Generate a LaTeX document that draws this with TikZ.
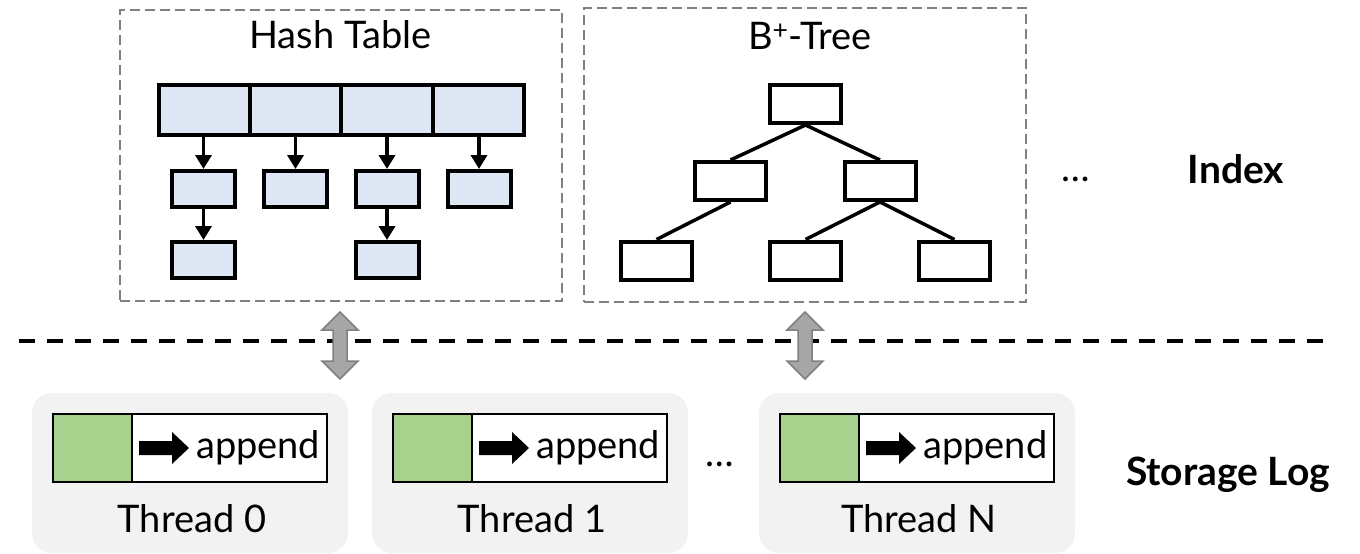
\documentclass[tikz,border=0pt]{standalone}
\usepackage{fontspec}
\setmainfont{Lato}
\usetikzlibrary{arrows.meta}
\definecolor{hblue}{HTML}{DDE8F4}
\definecolor{lgreen}{HTML}{A9D18E}
\definecolor{tbg}{HTML}{F2F2F2}
\definecolor{rgray}{HTML}{808080}
\definecolor{agray}{HTML}{A6A6A6}
\definecolor{aedge}{HTML}{808080}
\tikzset{
  region/.style={draw=rgray, line width=2.2pt, dash pattern=on 10pt off 5pt, inner sep=0pt, outer sep=0pt},
  hcell/.style={draw=black, line width=4pt, fill=hblue, minimum width=91.25pt, minimum height=50pt, inner sep=0pt},
  hbox/.style={draw=black, line width=4pt, fill=hblue, minimum width=63pt, minimum height=36pt, inner sep=0pt},
  bbox/.style={draw=black, line width=4pt, fill=white, minimum width=71pt, minimum height=38pt, inner sep=0pt},
  harr/.style={line width=3.5pt, -{Triangle[length=14pt,width=16pt]}},
  bline/.style={line width=3.5pt},
  title/.style={font=\fontsize{38}{42}\selectfont, inner sep=0pt, anchor=base},
  label/.style={font=\fontsize{39}{44}\selectfont\bfseries, inner sep=0pt, anchor=base},
  tbox/.style={fill=tbg, rounded corners=20pt, minimum width=316pt, minimum height=160pt, inner sep=0pt},
  gcell/.style={draw=black, line width=1.5pt, fill=lgreen, minimum width=79pt, minimum height=68pt, inner sep=0pt},
  wcell/.style={draw=black, line width=1.5pt, fill=white, minimum width=195pt, minimum height=68pt, inner sep=0pt},
  dblarrow/.style={fill=agray, draw=aedge, line width=1.5pt, line join=miter},
  dbl/.pic={\draw[dblarrow] (0,0) -- (18,18) -- (7,18) -- (7,49) -- (18,49) -- (0,67) -- (-18,49) -- (-7,49) -- (-7,18) -- (-18,18) -- cycle;},
  blk/.pic={\fill[black] (0,-7) -- (33,-7) -- (33,-16) -- (50,0) -- (33,16) -- (33,7) -- (0,7) -- cycle;}
}
\begin{document}
\begin{tikzpicture}[x=1pt,y=-1pt]
\useasboundingbox (0,0) rectangle (1360,554);
% index regions
\node[region, minimum width=442pt, minimum height=291pt] (hashreg) at (341,155.5) {};
\node[region, minimum width=442pt, minimum height=294pt] (treereg) at (805,155) {};
\node[title] (hashtitle) at (340.5,48) {Hash Table};
\node[title] (treetitle) at (810,49) {B\textsuperscript{+}-Tree};
% hash table
\node[hcell] (h1) at (204.6,110) {};
\node[hcell] (h2) at (295.9,110) {};
\node[hcell] (h3) at (387.1,110) {};
\node[hcell] (h4) at (478.4,110) {};
\node[hbox] (m1) at (203.5,189) {};
\node[hbox] (m2) at (295.5,189) {};
\node[hbox] (m3) at (387,189) {};
\node[hbox] (m4) at (479,189) {};
\node[hbox] (b1) at (203.5,260) {};
\node[hbox] (b3) at (387,260) {};
\draw[harr] (h1.south -| m1.north) -- (m1.north);
\draw[harr] (h2.south -| m2.north) -- (m2.north);
\draw[harr] (h3.south -| m3.north) -- (m3.north);
\draw[harr] (h4.south -| m4.north) -- (m4.north);
\draw[harr] (m1.south) -- (b1.north);
\draw[harr] (m3.south) -- (b3.north);
% B+ tree
\node[bbox] (root) at (805.5,104) {};
\node[bbox] (tl) at (730.5,181) {};
\node[bbox] (tr) at (880,181) {};
\node[bbox] (l1) at (656.5,260.5) {};
\node[bbox] (l2) at (805.5,260.5) {};
\node[bbox] (l3) at (954.5,260.5) {};
\draw[bline] (root.south) -- (tl.north);
\draw[bline] (root.south) -- (tr.north);
\draw[bline] (tl.south) -- (l1.north);
\draw[bline] (tr.south) -- (l2.north);
\draw[bline] (tr.south) -- (l3.north);
% index labels
\node[title] (idots) at (1076,181) {\ldots};
\node[label] (index) at (1236,183) {Index};
% separator
\coordinate (sepL) at (19,341);
\coordinate (sepR) at (1323,341);
\draw[line width=4.5pt, dash pattern=on 16pt off 12pt] (sepL) -- (sepR);
% threads
\foreach \i/\dx/\lab in {0/0/Thread 0, 1/340/Thread 1, 2/727/Thread N}{
  \node[tbox] (t\i) at (190+\dx,473) {};
  \node[gcell] (g\i) at (92.5+\dx,448) {};
  \node[wcell] (w\i) at (229.5+\dx,448) {};
  \pic at (139+\dx,448) {blk};
  \node[font=\fontsize{38}{42}\selectfont, inner sep=0pt, anchor=base west] (ap\i) at (196+\dx,458) {append};
  \node[title] (tl\i) at (192+\dx,532) {\lab};
}
\node[title] (tdots) at (720,466) {\ldots};
\node[label] (storage) at (1228,485) {Storage Log};
% double arrows
\pic at (340,312) {dbl};
\pic at (805,312) {dbl};
\end{tikzpicture}
\end{document}
